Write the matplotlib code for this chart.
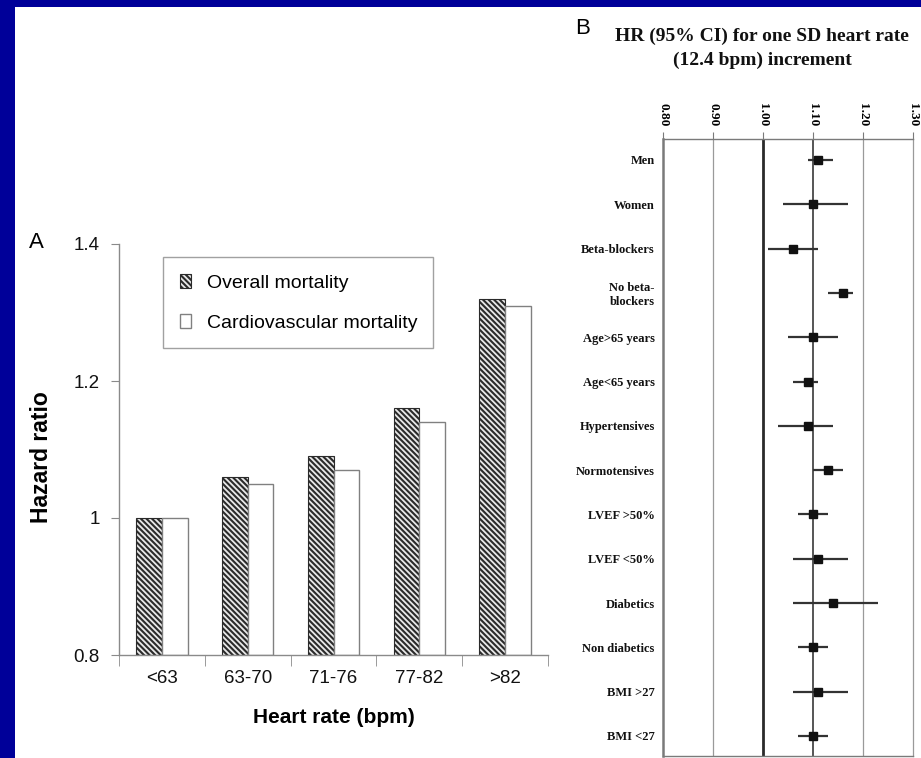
import matplotlib
matplotlib.use("Agg")
import matplotlib.pyplot as plt
from matplotlib.patches import Rectangle
import numpy as np

# ---- Panel A data ----
categories = ['<63', '63-70', '71-76', '77-82', '>82']
overall_mortality = [1.00, 1.06, 1.09, 1.16, 1.32]
cardio_mortality = [1.00, 1.05, 1.07, 1.14, 1.31]
yticks_a = [0.8, 1.0, 1.2, 1.4]
ytick_labels_a = ['0.8', '1', '1.2', '1.4']

# ---- Panel B data ----
subgroups = ['Men', 'Women', 'Beta-blockers', 'No beta-\nblockers', 'Age>65 years',
             'Age<65 years', 'Hypertensives', 'Normotensives', 'LVEF >50%', 'LVEF <50%',
             'Diabetics', 'Non diabetics', 'BMI >27', 'BMI <27']
hr = [1.11, 1.10, 1.06, 1.16, 1.10, 1.09, 1.09, 1.13, 1.10, 1.11, 1.14, 1.10, 1.11, 1.10]
ci_low = [1.09, 1.04, 1.01, 1.13, 1.05, 1.06, 1.03, 1.10, 1.07, 1.06, 1.06, 1.07, 1.06, 1.07]
ci_high = [1.14, 1.17, 1.11, 1.18, 1.15, 1.11, 1.14, 1.16, 1.13, 1.17, 1.23, 1.13, 1.17, 1.13]
xticks_b = [0.80, 0.90, 1.00, 1.10, 1.20, 1.30]
xtick_labels_b = ['0.80', '0.90', '1.00', '1.10', '1.20', '1.30']

plt.rcParams['hatch.linewidth'] = 1.5

W, H = 921, 758
fig = plt.figure(figsize=(W / 100, H / 100), dpi=100)
fig.patch.set_facecolor('#000099')
bg = Rectangle((15 / W, 0), 1 - 15 / W, 1 - 7 / H, transform=fig.transFigure,
               facecolor='white', edgecolor='none', zorder=-10)
fig.add_artist(bg)

sans = 'Liberation Sans'
serif = 'Liberation Serif'

# ---------------- Panel A ----------------
axA = fig.add_axes([119 / W, 1 - 655 / H, 429 / W, 411 / H])
axA.set_facecolor('none')
x = np.arange(len(categories))
bw = 0.3
b1 = axA.bar(x - bw / 2, np.array(overall_mortality) - 0.8, bw, bottom=0.8,
             facecolor='#e8e8e8', edgecolor='#2a2a2a', hatch='\\' * 6, linewidth=0.8,
             label='Overall mortality')
b2 = axA.bar(x + bw / 2, np.array(cardio_mortality) - 0.8, bw, bottom=0.8,
             facecolor='white', edgecolor='#808080', linewidth=1.0,
             label='Cardiovascular mortality')
axA.set_xlim(-0.5, len(categories) - 0.5)
axA.set_ylim(0.8, 1.4)
for s in ['top', 'right']:
    axA.spines[s].set_visible(False)
for s in ['left', 'bottom']:
    axA.spines[s].set_color('#8a8a8a')
    axA.spines[s].set_linewidth(1.0)
axA.set_yticks(yticks_a)
axA.set_yticklabels(ytick_labels_a, fontsize=13.5, family=sans, color='#111111')
axA.tick_params(axis='y', length=6, color='#8a8a8a', pad=8)
axA.set_xticks(x)
axA.set_xticklabels(categories, fontsize=13.5, family=sans, color='#111111')
axA.set_xticks(np.arange(-0.5, len(categories), 1.0), minor=True)
axA.tick_params(axis='x', which='major', length=0, pad=11)
axA.tick_params(axis='x', which='minor', length=8, color='#8a8a8a')
axA.set_xlabel('Heart rate (bpm)', fontsize=15, fontweight='bold', family=sans, labelpad=15)
axA.set_ylabel('Hazard ratio', fontsize=16.5, fontweight='bold', family=sans)
axA.yaxis.set_label_coords(-0.153, 0.482)
leg = axA.legend(loc='upper left', bbox_to_anchor=(0.1026, 0.968, 0.63, 0.0), mode='expand',
                 frameon=True, fancybox=False, prop={'family': sans, 'size': 14},
                 handlelength=0.6, handleheight=0.75, handletextpad=0.8,
                 labelspacing=1.15, borderpad=0.85, borderaxespad=0)
leg.get_frame().set_edgecolor('#8a8a8a')
leg.get_frame().set_linewidth(1.0)
fig.text(36 / W, 1 - 243 / H, 'A', fontsize=16, family=sans, ha='center', va='center')

# ---------------- Panel B ----------------
top_px, bot_px = 139, 756
row0, dy = 160, 44.3
axB = fig.add_axes([663 / W, 1 - bot_px / H, 250 / W, (bot_px - top_px) / H])
axB.set_facecolor('none')
n = len(subgroups)
rows = np.arange(n)
axB.set_xlim(0.8, 1.3)
axB.set_ylim((bot_px - row0) / dy, (top_px - row0) / dy)
for xv, col, lw in [(0.9, '#9a9a9a', 0.9), (1.0, '#2a2a2a', 2.0), (1.1, '#555555', 1.4),
                    (1.2, '#9a9a9a', 0.9)]:
    axB.axvline(xv, color=col, linewidth=lw, zorder=1)
hr_a = np.array(hr)
xerr = np.vstack([hr_a - np.array(ci_low), np.array(ci_high) - hr_a])
axB.errorbar(hr_a, rows, xerr=xerr, fmt='s', color='#111111', ecolor='#333333',
             elinewidth=1.6, markersize=6.2, capsize=0, zorder=3)
axB.spines['left'].set_color('#7a7a7a')
axB.spines['left'].set_linewidth(1.8)
axB.spines['right'].set_color('#9a9a9a')
axB.spines['right'].set_linewidth(0.9)
axB.spines['top'].set_color('#7a7a7a')
axB.spines['top'].set_linewidth(1.0)
axB.spines['bottom'].set_color('#7a7a7a')
axB.spines['bottom'].set_linewidth(1.0)
axB.xaxis.tick_top()
axB.set_xticks(xticks_b)
axB.set_xticklabels(xtick_labels_b, rotation=270, fontsize=9.5, fontweight='bold', family=serif)
axB.tick_params(axis='x', length=5, color='#7a7a7a', pad=4)
axB.set_yticks(rows)
axB.set_yticklabels(subgroups, fontsize=9, fontweight='bold', family=serif, color='#111111')
axB.tick_params(axis='y', length=0, pad=6)
fig.text(762 / W, 1 - 48 / H, 'HR (95% CI) for one SD heart rate\n(12.4 bpm) increment',
         fontsize=14, fontweight='bold', family=serif, ha='center', va='center',
         linespacing=1.5, color='#111111')
fig.text(583 / W, 1 - 28 / H, 'B', fontsize=16, family=sans, ha='center', va='center')

fig.savefig('out.png', dpi=100)
